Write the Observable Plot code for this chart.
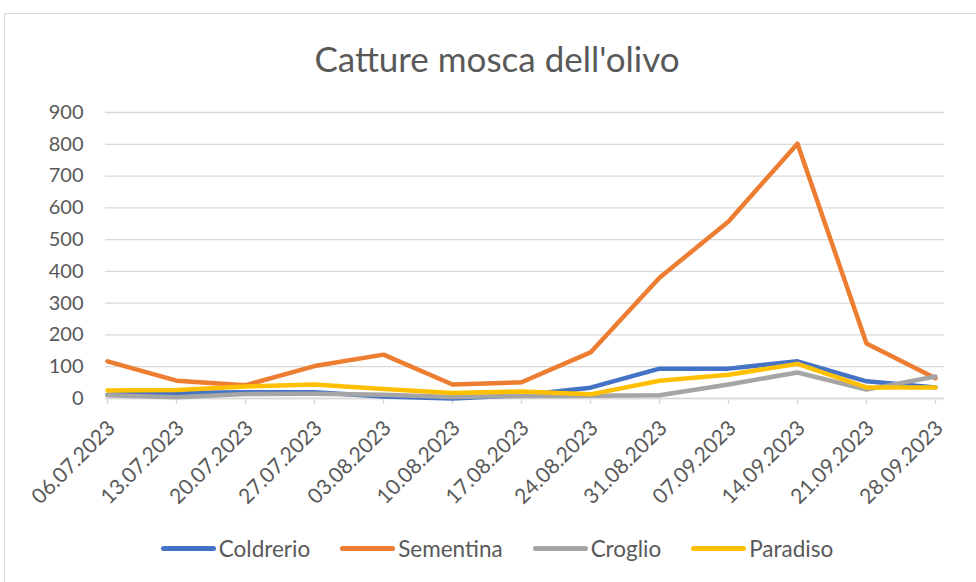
<!DOCTYPE html>
<html>
<head>
<meta charset="utf-8">
<script src="https://cdn.jsdelivr.net/npm/d3@7"></script>
<script src="https://cdn.jsdelivr.net/npm/@observablehq/plot@0.6"></script>
<style>
  html, body { margin: 0; padding: 0; background: #fff; overflow: hidden; width: 976px; height: 582px; }
  #frame { position: absolute; left: 4px; top: 13px; width: 990px; height: 620px; border: 1.5px solid #d9d9d9; box-sizing: border-box; }
  #title { position: absolute; left: 0; top: 37px; width: 994px; text-align: center; font-family: Lato, sans-serif; font-size: 35px; line-height: 42px; color: #595959; }
  #chart { position: absolute; left: 0; top: 90px; width: 976px; }
  #legend { position: absolute; left: 0; top: 535px; width: 994px; display: flex; justify-content: center; font-family: Lato, sans-serif; font-size: 22.5px; color: #595959; }
  .item { display: flex; align-items: center; margin: 0 15px; }
  .sw { width: 55px; height: 5px; border-radius: 3px; margin-right: 3px; }
</style>
</head>
<body>
<div id="frame"></div>
<div id="title">Catture mosca dell'olivo</div>
<div id="chart"></div>
<div id="legend"></div>
<script>
const dates = ["06.07.2023","13.07.2023","20.07.2023","27.07.2023","03.08.2023","10.08.2023","17.08.2023","24.08.2023","31.08.2023","07.09.2023","14.09.2023","21.09.2023","28.09.2023"];
const seriesNames = ["Coldrerio","Sementina","Croglio","Paradiso"];
const seriesColors = ["#4472C4","#ED7D31","#A5A5A5","#FFC000"];
const coldrerio = [12, 17, 20, 20, 6, 0, 10, 34, 94, 94, 117, 54, 35];
const sementina = [117, 56, 42, 102, 138, 44, 51, 145, 380, 557, 802, 173, 64];
const croglio   = [10, 4, 14, 15, 12, 5, 8, 9, 10, 44, 82, 28, 69];
const paradiso  = [25, 27, 38, 44, 30, 17, 22, 13, 56, 75, 109, 35, 35];
const yTicks = [0,100,200,300,400,500,600,700,800,900];

const valuesBySeries = [coldrerio, sementina, croglio, paradiso];
const data = [];
seriesNames.forEach((s, i) => dates.forEach((d, j) => data.push({series: s, date: d, value: valuesBySeries[i][j]})));

const font = "Lato, sans-serif";
const chart = Plot.plot({
  width: 976,
  height: 440,
  marginLeft: 105,
  marginRight: 32,
  marginTop: 22,
  marginBottom: 132,
  style: {fontFamily: font, fontSize: "20px", color: "#595959", background: "transparent"},
  x: {type: "point", domain: dates, padding: 0, insetLeft: 2, insetRight: 9},
  y: {domain: [0, 900]},
  color: {domain: seriesNames, range: seriesColors},
  marks: [
    Plot.gridY(yTicks, {stroke: "#d9d9d9", strokeOpacity: 1, strokeWidth: 1.3}),
    Plot.axisY(yTicks, {tickSize: 0, tickPadding: 22, label: null, fontSize: 20, fill: "#595959"}),
    Plot.ruleY([0], {stroke: "#d9d9d9", strokeWidth: 1.5}),
    Plot.axisX({tickSize: 6, stroke: "#d9d9d9", strokeWidth: 1.5, tickFormat: () => "", label: null}),
    Plot.axisX({tickSize: 0, tickPadding: 26, dx: 4, tickRotate: -45, label: null, fontSize: 21, fill: "#595959"}),
    Plot.line(data, {x: "date", y: "value", z: "series", stroke: "series", strokeWidth: 4.5, strokeLinecap: "round", strokeLinejoin: "round"})
  ]
});
document.getElementById("chart").appendChild(chart);

const legend = document.getElementById("legend");
seriesNames.forEach((s, i) => {
  const it = document.createElement("div");
  it.className = "item";
  const sw = document.createElement("div");
  sw.className = "sw";
  sw.style.background = seriesColors[i];
  const t = document.createElement("span");
  t.textContent = s;
  it.appendChild(sw); it.appendChild(t);
  legend.appendChild(it);
});
</script>
</body>
</html>
